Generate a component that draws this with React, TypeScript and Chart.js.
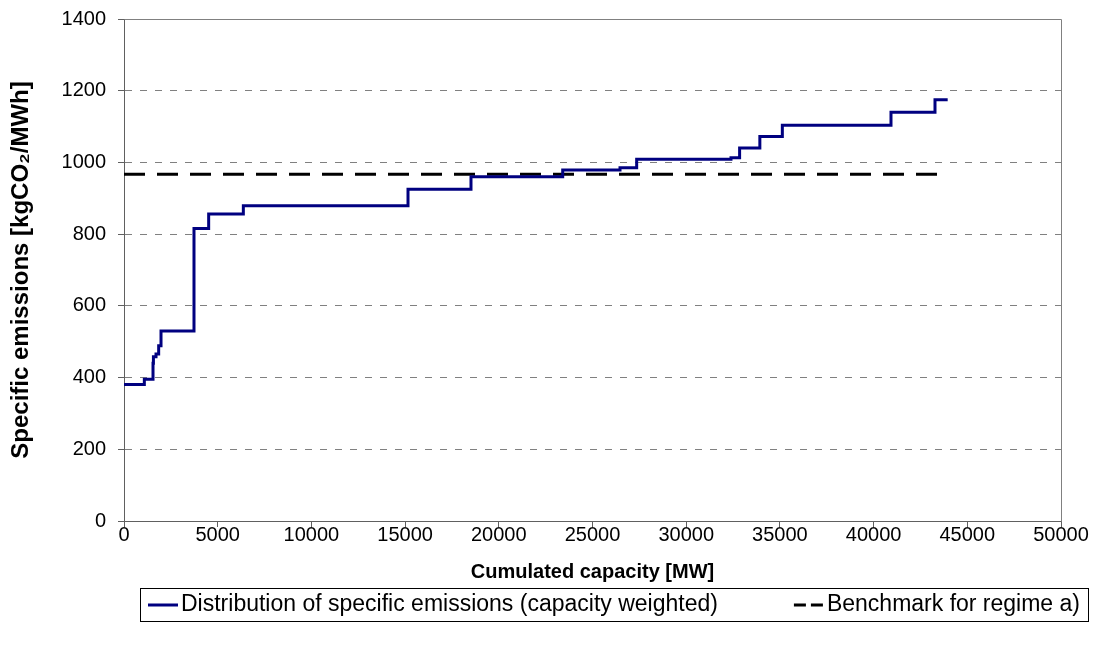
import React, { useEffect, useRef } from "react";
import { Chart, registerables } from "chart.js";

Chart.register(...registerables);

// Step boundaries (cumulated capacity, MW) and specific emissions (kgCO2/MWh)
const capacityMW = [0, 1085, 1548, 1570, 1708, 1850, 1975, 3735, 4518, 6368, 15155, 18516, 23410, 26468, 27357, 32390, 32850, 33930, 35130, 40928, 43276, 43953];
const emissions = [381, 395, 440, 458, 466, 489, 530, 816, 856, 879, 925, 960, 979, 985, 1009, 1013, 1040, 1072, 1104, 1140, 1175, 1175];

const benchmarkX = [0, 43900];
const benchmarkY = [967, 967];

const xTicks = [0, 5000, 10000, 15000, 20000, 25000, 30000, 35000, 40000, 45000, 50000];
const yTicks = [0, 200, 400, 600, 800, 1000, 1200, 1400];

const seriesLabel = "Distribution of specific emissions (capacity weighted)";
const benchmarkLabel = "Benchmark for regime a)";
const xTitle = "Cumulated capacity [MW]";
const yTitle = "Specific emissions [kgCO\u2082/MWh]";

const FONT = '"Liberation Sans", Arial, sans-serif';

const framePlugin = {
  id: "frame",
  beforeDatasetsDraw(chart: any) {
    const { ctx, chartArea } = chart;
    ctx.save();
    ctx.strokeStyle = "#808080";
    ctx.lineWidth = 1;
    ctx.setLineDash([]);
    ctx.beginPath();
    ctx.moveTo(Math.round(chartArea.left) + 0.5, Math.round(chartArea.top) + 0.5);
    ctx.lineTo(Math.round(chartArea.right) + 0.5, Math.round(chartArea.top) + 0.5);
    ctx.lineTo(Math.round(chartArea.right) + 0.5, Math.round(chartArea.bottom) + 0.5);
    ctx.stroke();
    ctx.restore();
  },
};

const legendBoxPlugin = {
  id: "legendBox",
  afterDraw(chart: any) {
    const ctx = chart.ctx;
    ctx.save();
    ctx.font = "23px " + FONT;
    const items = chart.data.datasets.map((ds: any) => ({
      label: ds.label,
      color: ds.borderColor,
      dash: ds.legendDash || [],
      width: ds.borderWidth,
    }));
    const sampleW = 30;
    const afterSample = 3;
    const left = 140;
    const right = 1088;
    const top = 588;
    const h = 33;
    ctx.strokeStyle = "#000";
    ctx.lineWidth = 1;
    ctx.strokeRect(left + 0.5, top + 0.5, right - left, h);
    const cy = top + h / 2 + 0.5;
    // first item left-aligned, last item right-aligned inside the box
    const widths = items.map((it: any) => sampleW + afterSample + ctx.measureText(it.label).width);
    const starts = [left + 8, right - 8 - widths[widths.length - 1]];
    items.forEach((it: any, i: number) => {
      let x = starts[i];
      ctx.beginPath();
      ctx.setLineDash(it.dash);
      ctx.strokeStyle = it.color;
      ctx.lineWidth = it.width;
      ctx.moveTo(x, cy);
      ctx.lineTo(x + sampleW, cy);
      ctx.stroke();
      ctx.setLineDash([]);
      x += sampleW + afterSample;
      ctx.fillStyle = "#000";
      ctx.textBaseline = "middle";
      ctx.textAlign = "left";
      ctx.fillText(it.label, x, cy);
    });
    ctx.restore();
  },
};

export default function App() {
  const canvasRef = useRef<HTMLCanvasElement | null>(null);

  useEffect(() => {
    if (!canvasRef.current) return;
    const chart = new Chart(canvasRef.current, {
      type: "line",
      data: {
        datasets: [
          {
            label: seriesLabel,
            data: capacityMW.map((x, i) => ({ x, y: emissions[i] })),
            borderColor: "#000080",
            borderWidth: 3,
            stepped: "before",
            pointRadius: 0,
            fill: false,
            order: 1,
          } as any,
          {
            label: benchmarkLabel,
            data: benchmarkX.map((x, i) => ({ x, y: benchmarkY[i] })),
            borderColor: "#000000",
            borderWidth: 3,
            borderDash: [21, 12],
            legendDash: [12, 5],
            pointRadius: 0,
            fill: false,
            order: 2,
          } as any,
        ],
      },
      options: {
        animation: false,
        responsive: false,
        devicePixelRatio: 1,
        layout: { padding: { top: 19, right: 39, left: 0, bottom: 0 } },
        plugins: {
          legend: { display: false },
          tooltip: { enabled: false },
        },
        scales: {
          x: {
            type: "linear",
            min: 0,
            max: 50000,
            afterBuildTicks: (scale: any) => {
              scale.ticks = xTicks.map((v) => ({ value: v }));
            },
            afterFit: (scale: any) => {
              scale.height = 142;
              scale.paddingLeft = 0;
              scale.paddingRight = 0;
            },
            ticks: {
              color: "#000",
              font: { family: FONT, size: 20 },
              padding: -4,
              maxRotation: 0,
              autoSkip: false,
              callback: (v: any) => String(v),
            },
            grid: {
              drawOnChartArea: false,
              drawTicks: true,
              tickLength: 6,
              tickColor: "#606060",
            },
            border: { display: true, color: "#606060", width: 1 },
            title: {
              display: true,
              text: xTitle,
              color: "#000",
              font: { family: FONT, size: 20, weight: "bold" },
              padding: { top: 0, bottom: 79 },
            },
          },
          y: {
            type: "linear",
            min: 0,
            max: 1400,
            afterBuildTicks: (scale: any) => {
              scale.ticks = yTicks.map((v) => ({ value: v }));
            },
            afterFit: (scale: any) => {
              scale.width = 124;
              scale.paddingTop = 0;
              scale.paddingBottom = 0;
            },
            ticks: {
              color: "#000",
              font: { family: FONT, size: 20 },
              padding: 12,
              callback: (v: any) => String(v),
            },
            grid: {
              color: "#808080",
              lineWidth: 1,
              drawTicks: true,
              tickLength: 6,
              tickColor: "#606060",
              tickBorderDash: [],
            },
            border: { display: true, color: "#606060", width: 1, dash: [7, 8] },
            title: {
              display: true,
              text: yTitle,
              color: "#000",
              font: { family: FONT, size: 24, weight: "bold" },
              padding: { top: 7, bottom: 0 },
            },
          },
        },
      },
      plugins: [framePlugin, legendBoxPlugin],
    } as any);
    return () => chart.destroy();
  }, []);

  return (
    <div style={{ position: "fixed", left: 0, top: 0, width: 1100, height: 663, background: "#fff" }}>
      <canvas ref={canvasRef} width={1100} height={663} />
    </div>
  );
}
